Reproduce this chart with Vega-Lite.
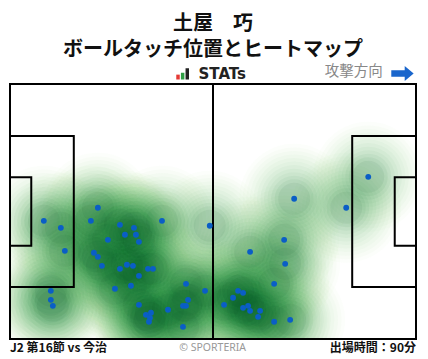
{
 "$schema": "https://vega.github.io/schema/vega-lite/v6.json",
 "width": 406,
 "height": 255,
 "autosize": {"type": "none"},
 "padding": {"left": 10, "top": 84, "right": 12, "bottom": 20},
 "background": "white",
 "config": {"view": {"stroke": null}, "font": "Noto Sans CJK JP"},
 "title": {
  "text": "土屋　巧",
  "subtitle": "ボールタッチ位置とヒートマップ",
  "fontSize": 20, "fontWeight": "bold", "color": "#111111", "font": "Noto Sans CJK JP",
  "subtitleFontSize": 20, "subtitleFontWeight": "bold", "subtitleColor": "#111111", "subtitleFont": "Noto Sans CJK JP",
  "anchor": "middle", "offset": 4, "subtitlePadding": 6
 },
 "datasets": {
  "touches": [
   {"x": 22.73, "y": 33.01}, {"x": 8.75, "y": 36.48}, {"x": 13.15, "y": 38.35}, {"x": 20.92, "y": 36.48},
   {"x": 39.31, "y": 36.48}, {"x": 51.66, "y": 37.81}, {"x": 28.43, "y": 37.55}, {"x": 32.06, "y": 38.35},
   {"x": 29.73, "y": 40.21}, {"x": 32.57, "y": 40.21}, {"x": 25.32, "y": 41.55}, {"x": 33.35, "y": 42.08},
   {"x": 14.19, "y": 44.48}, {"x": 21.70, "y": 45.01}, {"x": 22.73, "y": 46.08}, {"x": 23.77, "y": 48.48},
   {"x": 30.24, "y": 48.21}, {"x": 31.80, "y": 48.48}, {"x": 28.43, "y": 49.28}, {"x": 35.68, "y": 49.28},
   {"x": 36.98, "y": 49.28}, {"x": 33.35, "y": 51.15}, {"x": 45.52, "y": 53.28}, {"x": 27.14, "y": 54.61},
   {"x": 31.28, "y": 53.81}, {"x": 10.56, "y": 55.15}, {"x": 50.44, "y": 55.15}, {"x": 10.56, "y": 57.55},
   {"x": 46.04, "y": 57.55}, {"x": 11.08, "y": 59.15}, {"x": 33.35, "y": 58.88}, {"x": 44.74, "y": 59.15},
   {"x": 45.52, "y": 59.15}, {"x": 40.86, "y": 60.21}, {"x": 36.46, "y": 61.01}, {"x": 35.16, "y": 61.55},
   {"x": 36.20, "y": 62.35}, {"x": 35.94, "y": 63.41}, {"x": 44.74, "y": 64.75}, {"x": 92.65, "y": 24.75},
   {"x": 73.49, "y": 30.61}, {"x": 86.95, "y": 33.01}, {"x": 70.90, "y": 41.55}, {"x": 62.09, "y": 44.75},
   {"x": 71.16, "y": 47.95}, {"x": 68.31, "y": 53.28}, {"x": 58.98, "y": 55.15}, {"x": 60.28, "y": 55.68},
   {"x": 57.69, "y": 57.01}, {"x": 55.36, "y": 58.88}, {"x": 61.57, "y": 59.15}, {"x": 60.28, "y": 59.68},
   {"x": 62.09, "y": 60.48}, {"x": 64.68, "y": 60.48}, {"x": 64.16, "y": 62.08}, {"x": 68.31, "y": 63.41},
   {"x": 72.45, "y": 62.88}
  ],
  "pitch": [
   {"x": 0, "x2": 105, "y": 0, "y2": 68},
   {"x": 0, "x2": 16.5, "y": 13.84, "y2": 54.16},
   {"x": 0, "x2": 5.5, "y": 24.84, "y2": 43.16},
   {"x": 88.5, "x2": 105, "y": 13.84, "y2": 54.16},
   {"x": 99.5, "x2": 105, "y": 24.84, "y2": 43.16}
  ]
 },
 "layer": [
  {"data": {"name": "touches"}, "mark": {"type": "circle", "size": 12080, "color": "#c7e9c0", "opacity": 0.06, "clip": true},
   "encoding": {"x": {"field": "x", "type": "quantitative", "scale": {"domain": [0, 105], "nice": false, "zero": false}, "axis": null},
                "y": {"field": "y", "type": "quantitative", "scale": {"domain": [0, 68], "nice": false, "zero": false, "reverse": true}, "axis": null}}},
  {"data": {"name": "touches"}, "mark": {"type": "circle", "size": 10570, "color": "#b2e0ab", "opacity": 0.055, "clip": true},
   "encoding": {"x": {"field": "x", "type": "quantitative", "scale": {"domain": [0, 105], "nice": false, "zero": false}, "axis": null},
                "y": {"field": "y", "type": "quantitative", "scale": {"domain": [0, 68], "nice": false, "zero": false, "reverse": true}, "axis": null}}},
  {"data": {"name": "touches"}, "mark": {"type": "circle", "size": 9160, "color": "#a1d99b", "opacity": 0.05, "clip": true},
   "encoding": {"x": {"field": "x", "type": "quantitative", "scale": {"domain": [0, 105], "nice": false, "zero": false}, "axis": null},
                "y": {"field": "y", "type": "quantitative", "scale": {"domain": [0, 68], "nice": false, "zero": false, "reverse": true}, "axis": null}}},
  {"data": {"name": "touches"}, "mark": {"type": "circle", "size": 7850, "color": "#8bcf89", "opacity": 0.045, "clip": true},
   "encoding": {"x": {"field": "x", "type": "quantitative", "scale": {"domain": [0, 105], "nice": false, "zero": false}, "axis": null},
                "y": {"field": "y", "type": "quantitative", "scale": {"domain": [0, 68], "nice": false, "zero": false, "reverse": true}, "axis": null}}},
  {"data": {"name": "touches"}, "mark": {"type": "circle", "size": 6650, "color": "#74c476", "opacity": 0.045, "clip": true},
   "encoding": {"x": {"field": "x", "type": "quantitative", "scale": {"domain": [0, 105], "nice": false, "zero": false}, "axis": null},
                "y": {"field": "y", "type": "quantitative", "scale": {"domain": [0, 68], "nice": false, "zero": false, "reverse": true}, "axis": null}}},
  {"data": {"name": "touches"}, "mark": {"type": "circle", "size": 5540, "color": "#5bb86a", "opacity": 0.045, "clip": true},
   "encoding": {"x": {"field": "x", "type": "quantitative", "scale": {"domain": [0, 105], "nice": false, "zero": false}, "axis": null},
                "y": {"field": "y", "type": "quantitative", "scale": {"domain": [0, 68], "nice": false, "zero": false, "reverse": true}, "axis": null}}},
  {"data": {"name": "touches"}, "mark": {"type": "circle", "size": 4540, "color": "#41ab5d", "opacity": 0.045, "clip": true},
   "encoding": {"x": {"field": "x", "type": "quantitative", "scale": {"domain": [0, 105], "nice": false, "zero": false}, "axis": null},
                "y": {"field": "y", "type": "quantitative", "scale": {"domain": [0, 68], "nice": false, "zero": false, "reverse": true}, "axis": null}}},
  {"data": {"name": "touches"}, "mark": {"type": "circle", "size": 3630, "color": "#329b51", "opacity": 0.045, "clip": true},
   "encoding": {"x": {"field": "x", "type": "quantitative", "scale": {"domain": [0, 105], "nice": false, "zero": false}, "axis": null},
                "y": {"field": "y", "type": "quantitative", "scale": {"domain": [0, 68], "nice": false, "zero": false, "reverse": true}, "axis": null}}},
  {"data": {"name": "touches"}, "mark": {"type": "circle", "size": 2830, "color": "#238b45", "opacity": 0.045, "clip": true},
   "encoding": {"x": {"field": "x", "type": "quantitative", "scale": {"domain": [0, 105], "nice": false, "zero": false}, "axis": null},
                "y": {"field": "y", "type": "quantitative", "scale": {"domain": [0, 68], "nice": false, "zero": false, "reverse": true}, "axis": null}}},
  {"data": {"name": "touches"}, "mark": {"type": "circle", "size": 2120, "color": "#137c39", "opacity": 0.05, "clip": true},
   "encoding": {"x": {"field": "x", "type": "quantitative", "scale": {"domain": [0, 105], "nice": false, "zero": false}, "axis": null},
                "y": {"field": "y", "type": "quantitative", "scale": {"domain": [0, 68], "nice": false, "zero": false, "reverse": true}, "axis": null}}},
  {"data": {"name": "touches"}, "mark": {"type": "circle", "size": 1520, "color": "#006d2c", "opacity": 0.055, "clip": true},
   "encoding": {"x": {"field": "x", "type": "quantitative", "scale": {"domain": [0, 105], "nice": false, "zero": false}, "axis": null},
                "y": {"field": "y", "type": "quantitative", "scale": {"domain": [0, 68], "nice": false, "zero": false, "reverse": true}, "axis": null}}},
  {"data": {"name": "touches"}, "mark": {"type": "circle", "size": 1020, "color": "#00441b", "opacity": 0.06, "clip": true},
   "encoding": {"x": {"field": "x", "type": "quantitative", "scale": {"domain": [0, 105], "nice": false, "zero": false}, "axis": null},
                "y": {"field": "y", "type": "quantitative", "scale": {"domain": [0, 68], "nice": false, "zero": false, "reverse": true}, "axis": null}}},
  {"data": {"name": "pitch"},
   "mark": {"type": "rect", "fill": "transparent", "stroke": "#000000", "strokeWidth": 2},
   "encoding": {"x": {"field": "x", "type": "quantitative", "scale": {"domain": [0, 105], "nice": false, "zero": false}, "axis": null},
                "x2": {"field": "x2"},
                "y": {"field": "y", "type": "quantitative", "scale": {"domain": [0, 68], "nice": false, "zero": false, "reverse": true}, "axis": null},
                "y2": {"field": "y2"}}},
  {"data": {"values": [{}]},
   "mark": {"type": "rule", "color": "#000000", "strokeWidth": 2},
   "encoding": {"x": {"datum": 52.5, "type": "quantitative", "scale": {"domain": [0, 105], "nice": false, "zero": false}, "axis": null},
                "y": {"datum": 0, "type": "quantitative", "scale": {"domain": [0, 68], "nice": false, "zero": false, "reverse": true}, "axis": null},
                "y2": {"datum": 68}}},
  {"data": {"name": "touches"}, "mark": {"type": "circle", "size": 34, "color": "#0a5ec6", "opacity": 1},
   "encoding": {"x": {"field": "x", "type": "quantitative", "scale": {"domain": [0, 105], "nice": false, "zero": false}, "axis": null},
                "y": {"field": "y", "type": "quantitative", "scale": {"domain": [0, 68], "nice": false, "zero": false, "reverse": true}, "axis": null}}},
  {"data": {"values": [{}]},
   "mark": {"type": "rect", "color": "#e53935"},
   "encoding": {"x": {"datum": 43.0, "type": "quantitative", "scale": {"domain": [0, 105], "nice": false, "zero": false}, "axis": null},
                "x2": {"datum": 43.9},
                "y": {"datum": -2.5, "type": "quantitative", "scale": {"domain": [0, 68], "nice": false, "zero": false, "reverse": true}, "axis": null},
                "y2": {"datum": -1.2}}},
  {"data": {"values": [{}]},
   "mark": {"type": "rect", "color": "#2e9e44"},
   "encoding": {"x": {"datum": 44.2, "type": "quantitative", "scale": {"domain": [0, 105], "nice": false, "zero": false}, "axis": null},
                "x2": {"datum": 45.1},
                "y": {"datum": -3.0, "type": "quantitative", "scale": {"domain": [0, 68], "nice": false, "zero": false, "reverse": true}, "axis": null},
                "y2": {"datum": -1.2}}},
  {"data": {"values": [{}]},
   "mark": {"type": "rect", "color": "#222222"},
   "encoding": {"x": {"datum": 45.4, "type": "quantitative", "scale": {"domain": [0, 105], "nice": false, "zero": false}, "axis": null},
                "x2": {"datum": 46.3},
                "y": {"datum": -4.2, "type": "quantitative", "scale": {"domain": [0, 68], "nice": false, "zero": false, "reverse": true}, "axis": null},
                "y2": {"datum": -1.2}}},
  {"data": {"values": [{}]},
   "mark": {"type": "text", "text": "STATs", "font": "DejaVu Sans", "fontWeight": "bold", "fontSize": 15, "color": "#222222", "align": "center", "baseline": "middle"},
   "encoding": {"x": {"datum": 54.9, "type": "quantitative", "scale": {"domain": [0, 105], "nice": false, "zero": false}, "axis": null},
                "y": {"datum": -2.8, "type": "quantitative", "scale": {"domain": [0, 68], "nice": false, "zero": false, "reverse": true}, "axis": null}}},
  {"data": {"values": [{}]},
   "mark": {"type": "text", "text": "攻撃方向", "font": "Noto Sans CJK JP", "fontSize": 14.5, "color": "#888888", "align": "center", "baseline": "middle"},
   "encoding": {"x": {"datum": 88.9, "type": "quantitative", "scale": {"domain": [0, 105], "nice": false, "zero": false}, "axis": null},
                "y": {"datum": -3.2, "type": "quantitative", "scale": {"domain": [0, 68], "nice": false, "zero": false, "reverse": true}, "axis": null}}},
  {"data": {"values": [{}]},
   "mark": {"type": "point", "shape": "M-1,-0.3L0.2,-0.3L0.2,-0.68L1,0L0.2,0.68L0.2,0.3L-1,0.3Z", "filled": true, "size": 500, "color": "#1a66cc", "opacity": 1},
   "encoding": {"x": {"datum": 101.5, "type": "quantitative", "scale": {"domain": [0, 105], "nice": false, "zero": false}, "axis": null},
                "y": {"datum": -2.8, "type": "quantitative", "scale": {"domain": [0, 68], "nice": false, "zero": false, "reverse": true}, "axis": null}}},
  {"data": {"values": [{}]},
   "mark": {"type": "text", "text": "J2 第16節 vs 今治", "font": "Noto Sans CJK JP", "fontWeight": "bold", "fontSize": 12, "color": "#111111", "align": "left", "baseline": "middle"},
   "encoding": {"x": {"datum": 0, "type": "quantitative", "scale": {"domain": [0, 105], "nice": false, "zero": false}, "axis": null},
                "y": {"datum": 70.5, "type": "quantitative", "scale": {"domain": [0, 68], "nice": false, "zero": false, "reverse": true}, "axis": null}}},
  {"data": {"values": [{}]},
   "mark": {"type": "text", "text": "© SPORTERIA", "font": "Noto Sans", "fontSize": 10.5, "color": "#999999", "align": "center", "baseline": "middle"},
   "encoding": {"x": {"datum": 52.4, "type": "quantitative", "scale": {"domain": [0, 105], "nice": false, "zero": false}, "axis": null},
                "y": {"datum": 70.3, "type": "quantitative", "scale": {"domain": [0, 68], "nice": false, "zero": false, "reverse": true}, "axis": null}}},
  {"data": {"values": [{}]},
   "mark": {"type": "text", "text": "出場時間：90分", "font": "Noto Sans CJK JP", "fontWeight": "bold", "fontSize": 12, "color": "#111111", "align": "right", "baseline": "middle"},
   "encoding": {"x": {"datum": 105, "type": "quantitative", "scale": {"domain": [0, 105], "nice": false, "zero": false}, "axis": null},
                "y": {"datum": 70.5, "type": "quantitative", "scale": {"domain": [0, 68], "nice": false, "zero": false, "reverse": true}, "axis": null}}}
 ]
}
